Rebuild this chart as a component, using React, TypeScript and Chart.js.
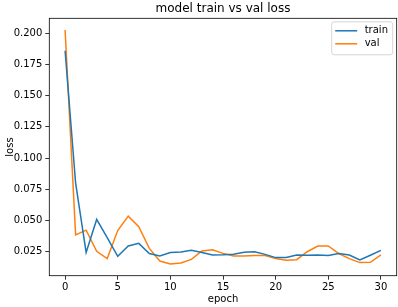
import React, { useEffect, useRef } from "react";
import { Chart, registerables } from "chart.js";

Chart.register(...registerables);

const epochs: number[] = Array.from({ length: 31 }, (_, i) => i);
const trainLoss: number[] = [
  0.186, 0.080, 0.0245, 0.0509, 0.0363, 0.0213, 0.0296, 0.0317, 0.0235, 0.0216,
  0.0243, 0.0248, 0.0262, 0.0243, 0.0223, 0.0225, 0.0229, 0.0245, 0.025, 0.0229,
  0.0203, 0.0203, 0.0223, 0.0222, 0.0224, 0.0219, 0.0235, 0.0224, 0.0184, 0.0222,
  0.0261,
];
const valLoss: number[] = [
  0.2026, 0.0385, 0.0423, 0.0253, 0.0195, 0.042, 0.0535, 0.045, 0.0277, 0.0176,
  0.0152, 0.016, 0.0189, 0.0256, 0.0265, 0.0237, 0.0216, 0.0216, 0.022, 0.022,
  0.0195, 0.0182, 0.0186, 0.025, 0.0296, 0.0296, 0.0235, 0.0195, 0.0163, 0.0165,
  0.0224,
];
const xTicks: number[] = [0, 5, 10, 15, 20, 25, 30];
const yTicks: number[] = [0.025, 0.05, 0.075, 0.1, 0.125, 0.15, 0.175, 0.2];
const seriesNames: string[] = ["train", "val"];
const seriesColors: string[] = ["#1f77b4", "#ff7f0e"];
const titleText = "model train vs val loss";
const xLabel = "epoch";
const yLabel = "loss";

const FONT = "'DejaVu Sans', sans-serif";

const decorPlugin = {
  id: "decor",
  afterDraw(chart: any) {
    const { ctx, chartArea } = chart;
    const { left, right, top, bottom } = chartArea;
    ctx.save();
    // frame
    ctx.strokeStyle = "#000";
    ctx.lineWidth = 0.8;
    ctx.strokeRect(left, top, right - left, bottom - top);
    // title
    ctx.fillStyle = "#000";
    ctx.font = `12px ${FONT}`;
    ctx.textAlign = "center";
    ctx.textBaseline = "middle";
    ctx.fillText(titleText, (left + right) / 2, 9);
    // legend
    const bx = right - 65;
    const by = top + 3.5;
    const bw = 61;
    const bh = 33;
    ctx.beginPath();
    if (ctx.roundRect) ctx.roundRect(bx, by, bw, bh, 2.5);
    else ctx.rect(bx, by, bw, bh);
    ctx.fillStyle = "rgba(255,255,255,0.8)";
    ctx.fill();
    ctx.strokeStyle = "#cccccc";
    ctx.lineWidth = 0.8;
    ctx.stroke();
    ctx.font = `10px ${FONT}`;
    ctx.textAlign = "left";
    seriesNames.forEach((name, i) => {
      const y = by + 9 + i * 13;
      ctx.strokeStyle = seriesColors[i];
      ctx.lineWidth = 1.5;
      ctx.beginPath();
      ctx.moveTo(bx + 3.5, y);
      ctx.lineTo(bx + 25.5, y);
      ctx.stroke();
      ctx.fillStyle = "#000";
      ctx.fillText(name, bx + 33, y);
    });
    ctx.restore();
  },
};

export default function App() {
  const ref = useRef<HTMLCanvasElement | null>(null);
  useEffect(() => {
    if (!ref.current) return;
    Chart.defaults.font.family = FONT;
    Chart.defaults.font.size = 10;
    Chart.defaults.color = "#000";
    const chart = new Chart(ref.current, {
      type: "line",
      data: {
        datasets: [
          {
            label: seriesNames[0],
            data: epochs.map((e, i) => ({ x: e, y: trainLoss[i] })),
            borderColor: seriesColors[0],
            backgroundColor: seriesColors[0],
            borderWidth: 1.5,
            pointRadius: 0,
            tension: 0,
          },
          {
            label: seriesNames[1],
            data: epochs.map((e, i) => ({ x: e, y: valLoss[i] })),
            borderColor: seriesColors[1],
            backgroundColor: seriesColors[1],
            borderWidth: 1.5,
            pointRadius: 0,
            tension: 0,
          },
        ],
      },
      options: {
        animation: false,
        responsive: false,
        events: [],
        layout: { padding: { top: 18.3, right: 1.3, left: 0, bottom: 0 } },
        plugins: {
          legend: { display: false },
          title: { display: false },
          tooltip: { enabled: false },
        },
        scales: {
          x: {
            type: "linear",
            min: -1.5,
            max: 31.5,
            afterBuildTicks: (s: any) => {
              s.ticks = xTicks.map((v) => ({ value: v }));
            },
            afterFit: (s: any) => {
              s.height = 31.3;
            },
            ticks: { padding: 2, maxRotation: 0, autoSkip: false, font: { size: 10 } },
            grid: {
              drawOnChartArea: false,
              drawTicks: true,
              tickLength: 4,
              color: "#000",
              lineWidth: 0.8,
            },
            border: { display: false },
            title: {
              display: true,
              text: xLabel,
              font: { size: 10 },
              padding: { top: 0, bottom: 2 },
            },
          },
          y: {
            type: "linear",
            min: 0.0058,
            max: 0.212,
            afterBuildTicks: (s: any) => {
              s.ticks = yTicks.map((v) => ({ value: v }));
            },
            afterFit: (s: any) => {
              s.width = 49.3;
            },
            ticks: {
              padding: 3,
              autoSkip: false,
              font: { size: 10 },
              callback: (v: any) => Number(v).toFixed(3),
            },
            grid: {
              drawOnChartArea: false,
              drawTicks: true,
              tickLength: 4,
              color: "#000",
              lineWidth: 0.8,
            },
            border: { display: false },
            title: {
              display: true,
              text: yLabel,
              font: { size: 10 },
              padding: { top: 4, bottom: 0 },
            },
          },
        },
      },
      plugins: [decorPlugin],
    });
    return () => chart.destroy();
  }, []);
  return (
    <div style={{ position: "fixed", left: 0, top: 0, width: 398, height: 307, background: "#fff" }}>
      <canvas ref={ref} width={398} height={307} style={{ display: "block" }} />
    </div>
  );
}
